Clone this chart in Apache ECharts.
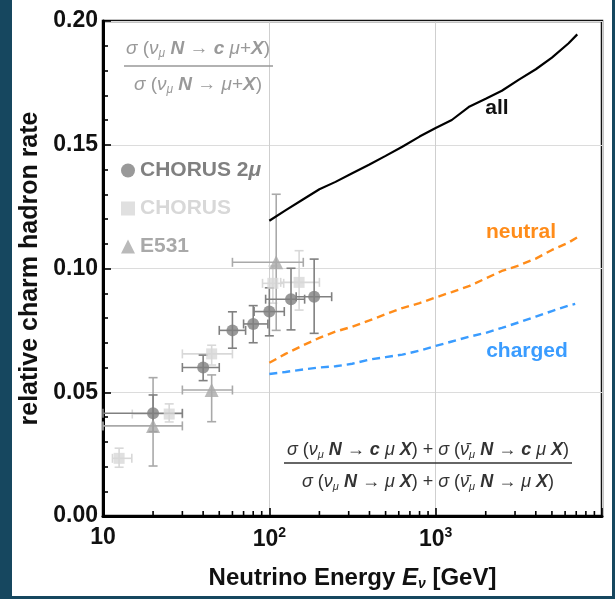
<!DOCTYPE html>
<html><head><meta charset="utf-8">
<script src="https://cdn.jsdelivr.net/npm/echarts@6/dist/echarts.min.js"></script>
<style>
html,body{margin:0;padding:0;background:#16475f;overflow:hidden;}
#wrap{position:absolute;left:12px;top:0;width:600px;height:596px;background:#fff;}
#chart{position:absolute;left:0;top:0;width:615px;height:599px;}
</style></head><body>
<div id="wrap"></div>
<div id="chart"></div>
<script>
// ---- data ----
const chorus2muE   = [20, 40, 60, 80, 100, 135, 186];
const chorus2muV   = [0.0415, 0.0600, 0.0750, 0.0776, 0.0826, 0.0876, 0.0886];
const chorus2muElo = [10, 30, 50, 70, 81, 95, 145];
const chorus2muEhi = [30, 50, 72, 98, 123, 163, 237];
const chorus2muVlo = [0.0341, 0.0547, 0.0678, 0.0700, 0.0728, 0.0752, 0.0738];
const chorus2muVhi = [0.0489, 0.0650, 0.0825, 0.0850, 0.0922, 0.1001, 0.1038];

const chorusE   = [12.5, 25, 45, 105, 151];
const chorusV   = [0.0233, 0.0412, 0.0655, 0.0940, 0.0944];
const chorusElo = [11.4, 15, 30, 91, 117];
const chorusEhi = [14.9, 30, 60, 122, 200];
const chorusVlo = [0.0197, 0.0380, 0.0610, 0.0860, 0.0832];
const chorusVhi = [0.0274, 0.0453, 0.0690, 0.1010, 0.1072];

const e531E   = [20, 45, 110];
const e531V   = [0.0364, 0.0509, 0.1025];
const e531Elo = [10, 30, 60];
const e531Ehi = [30, 60, 160];
const e531Vlo = [0.0202, 0.0381, 0.0750];
const e531Vhi = [0.0559, 0.0570, 0.1300];

const lineE   = [100,125,160,200,250,315,400,500,630,800,1000,1250,1600,2000,2500,3150,4000,5000,6300,7100];
const allV    = [0.1193,0.1235,0.1280,0.1320,0.1350,0.1385,0.1420,0.1455,0.1492,0.1533,0.1568,0.1600,0.1655,0.1686,0.1718,0.1762,0.1805,0.1852,0.1910,0.1946];
const neutralV= [0.0619,0.0655,0.0690,0.0720,0.0745,0.0765,0.0790,0.0815,0.0840,0.0860,0.0883,0.0905,0.0930,0.0960,0.0990,0.1012,0.1040,0.1075,0.1105,0.1126];
const chargedE= [100,125,160,200,250,315,400,500,630,800,1000,1250,1600,2000,2500,3150,4000,5000,6300,6900];
const chargedV= [0.0574,0.0582,0.0592,0.0600,0.0605,0.0615,0.0632,0.0642,0.0652,0.0668,0.0687,0.0705,0.0725,0.0740,0.0760,0.0782,0.0806,0.0828,0.0850,0.0857];

const minorTicksX = [20,30,40,50,60,70,80,90,200,300,400,500,600,700,800,900,2000,3000,4000,5000,6000,7000,8000,9000];

// ---- helpers ----
const FF = '"Liberation Sans", Arial, Helvetica, sans-serif';
function zip(a, b){ return a.map((v,i)=>[v, b[i]]); }
function ebData(E,V,El,Eh,Vl,Vh){ return E.map((e,i)=>[e,V[i],El[i],Eh[i],Vl[i],Vh[i]]); }
function errorBars(name, color, data){
  return {
    type:'custom', name: name, silent:true, z:3,
    data: data, encode:{x:[0,2,3], y:[1,4,5]},
    renderItem: function(params, api){
      const x=api.value(0), y=api.value(1);
      const a=api.coord([api.value(2), y]), b=api.coord([api.value(3), y]);
      const c=api.coord([x, api.value(4)]), d=api.coord([x, api.value(5)]);
      const st={stroke:color, lineWidth:1.6};
      const cap=4.5;
      return {type:'group', children:[
        {type:'line', shape:{x1:a[0],y1:a[1],x2:b[0],y2:b[1]}, style:st},
        {type:'line', shape:{x1:a[0],y1:a[1]-cap,x2:a[0],y2:a[1]+cap}, style:st},
        {type:'line', shape:{x1:b[0],y1:b[1]-cap,x2:b[0],y2:b[1]+cap}, style:st},
        {type:'line', shape:{x1:c[0],y1:c[1],x2:d[0],y2:d[1]}, style:st},
        {type:'line', shape:{x1:c[0]-cap,y1:c[1],x2:c[0]+cap,y2:c[1]}, style:st},
        {type:'line', shape:{x1:d[0]-cap,y1:d[1],x2:d[0]+cap,y2:d[1]}, style:st}
      ]};
    }
  };
}
function richSet(size, color){
  return {
    n:{fontFamily:FF, fontSize:size, color:color},
    i:{fontFamily:FF, fontSize:size, color:color, fontStyle:'italic'},
    b:{fontFamily:FF, fontSize:size, color:color, fontStyle:'italic', fontWeight:'bold'},
    s:{fontFamily:FF, fontSize:Math.round(size*0.62), color:color, fontStyle:'italic', padding:[10,0,0,0]}
  };
}
function formula(text, x, y, size, color){
  return {type:'text', silent:true, z:20, style:{text:text, x:x, y:y, rich:richSet(size,color),
    fill:color, font:size+'px '+FF, align:'center', verticalAlign:'middle'}};
}
const nuBar = 'ν\u0304';

const C2 = '#808080', C1 = '#d8d8d8', C3 = '#a9a9a9';
const ORANGE = '#ff8c1a', BLUE = '#3a9cff';

const chart = echarts.init(document.getElementById('chart'), null, {renderer:'canvas'});
const option = {
  animation:false,
  grid:{left:103, top:21, width:499, height:495, show:true, borderColor:'#111', borderWidth:2.5, backgroundColor:'transparent'},
  xAxis:{
    type:'log', min:10, max:10000, logBase:10,
    name:'Neutrino Energy {it|E}{sb|ν} [GeV]', nameLocation:'middle', nameGap:49,
    nameTextStyle:{fontFamily:FF, fontSize:24, fontWeight:'bold', color:'#111',
      rich:{it:{fontFamily:FF, fontSize:24, fontWeight:'bold', fontStyle:'italic', color:'#111'},
            sb:{fontFamily:FF, fontSize:14, fontStyle:'italic', color:'#111', padding:[12,0,0,0]}}},
    axisLine:{show:true, lineStyle:{color:'#000', width:3}},
    axisTick:{show:true, inside:true, length:8, lineStyle:{color:'#000', width:1.6}},
    axisLabel:{margin:10, color:'#111', fontFamily:FF, fontSize:23, fontWeight:'bold',
      formatter:function(v){ const p=Math.round(Math.log10(v)); if(p===1) return '{b|10}'; if(p>3) return ''; return '{b|10}{p|'+p+'}'; },
      rich:{b:{fontFamily:FF, fontSize:23, fontWeight:'bold', color:'#111'},
            p:{fontFamily:FF, fontSize:14, fontWeight:'bold', color:'#111', padding:[0,0,14,0]}}},
    splitLine:{show:true, lineStyle:{color:'#cfcfcf', width:1}},
    minorTick:{show:false}
  },
  yAxis:{
    type:'value', min:0, max:0.2, interval:0.05,
    name:'relative charm hadron rate', nameLocation:'middle', nameGap:60,
    nameTextStyle:{fontFamily:FF, fontSize:25, fontWeight:'bold', color:'#111'},
    axisLine:{show:true, lineStyle:{color:'#000', width:3}},
    axisTick:{show:true, inside:true, length:8, lineStyle:{color:'#000', width:1.6}},
    minorTick:{show:true, splitNumber:5, length:5, lineStyle:{color:'#000', width:1.6}},
    axisLabel:{margin:5, color:'#111', fontFamily:FF, fontSize:23, fontWeight:'bold',
      formatter:function(v){ return v.toFixed(2); }},
    splitLine:{show:true, lineStyle:{color:'#dcdcdc', width:1}}
  },
  legend:{
    orient:'vertical', left:116, top:155, itemGap:17, itemWidth:14, itemHeight:14,
    textStyle:{fontFamily:FF, fontSize:21, fontWeight:'bold'},
    formatter:function(n){ return n==='CHORUS 2μ' ? 'CHORUS 2{it|μ}' : n; },
    data:[
      {name:'CHORUS 2μ', icon:'circle', textStyle:{color:C2, rich:{it:{fontFamily:FF,fontSize:21,fontWeight:'bold',fontStyle:'italic',color:C2}}}},
      {name:'CHORUS', icon:'rect', itemStyle:{color:C1}, textStyle:{color:C1}},
      {name:'E531', icon:'triangle', textStyle:{color:C3}}
    ]
  },
  series:[
    errorBars('eb_chorus', C1, ebData(chorusE,chorusV,chorusElo,chorusEhi,chorusVlo,chorusVhi)),
    errorBars('eb_e531', C3, ebData(e531E,e531V,e531Elo,e531Ehi,e531Vlo,e531Vhi)),
    errorBars('eb_chorus2mu', C2, ebData(chorus2muE,chorus2muV,chorus2muElo,chorus2muEhi,chorus2muVlo,chorus2muVhi)),
    {type:'scatter', name:'CHORUS', symbol:'rect', symbolSize:11, z:4, itemStyle:{color:C1}, data:zip(chorusE,chorusV)},
    {type:'scatter', name:'E531', symbol:'triangle', symbolSize:14, z:4, itemStyle:{color:C3}, data:zip(e531E,e531V)},
    {type:'scatter', name:'CHORUS 2μ', symbol:'circle', symbolSize:12, z:5, itemStyle:{color:C2}, data:zip(chorus2muE,chorus2muV)},
    {type:'line', name:'all', showSymbol:false, z:6, lineStyle:{color:'#000', width:2.2}, data:zip(lineE, allV)},
    {type:'line', name:'neutral', showSymbol:false, z:6, lineStyle:{color:ORANGE, width:2.4, type:[8,5]}, data:zip(lineE, neutralV)},
    {type:'line', name:'charged', showSymbol:false, z:6, lineStyle:{color:BLUE, width:2.4, type:[8,5]}, data:zip(chargedE, chargedV)},
    {type:'custom', name:'minorX', silent:true, z:10, data:minorTicksX.map(v=>[v,0]),
      renderItem:function(params, api){
        const p=api.coord([api.value(0), 0]);
        return {type:'line', shape:{x1:p[0], y1:p[1], x2:p[0], y2:p[1]-5}, style:{stroke:'#000', lineWidth:1.6}};
      }}
  ],
  graphic:[
    formula('{i|σ}{n| (}{i|ν}{s|μ}{b| N}{n| → }{b|c}{i| μ}{n|+}{b|X}{n|)}', 198, 49, 19, '#999'),
    {type:'line', silent:true, z:20, shape:{x1:124, y1:66, x2:273, y2:66}, style:{stroke:'#999', lineWidth:1.6}},
    formula('{i|σ}{n| (}{i|ν}{s|μ}{b| N}{n| → }{i|μ}{n|+}{b|X}{n|)}', 198, 85, 19, '#999'),

    formula('{i|σ}{n| (}{i|ν}{s|μ}{b| N}{n| → }{b|c}{i| μ}{b| X}{n|) + }{i|σ}{n| (}{i|'+nuBar+'}{s|μ}{b| N}{n| → }{b|c}{i| μ}{b| X}{n|)}', 428, 450, 18, '#333'),
    {type:'line', silent:true, z:20, shape:{x1:284, y1:463, x2:572, y2:463}, style:{stroke:'#333', lineWidth:1.6}},
    formula('{i|σ}{n| (}{i|ν}{s|μ}{b| N}{n| → }{i|μ}{b| X}{n|) + }{i|σ}{n| (}{i|'+nuBar+'}{s|μ}{b| N}{n| → }{i|μ}{b| X}{n|)}', 428, 482, 18, '#333'),

    {type:'text', silent:true, z:20, style:{text:'all', x:497, y:108, fill:'#111', font:'bold 21px '+FF, align:'center', verticalAlign:'middle'}},
    {type:'text', silent:true, z:20, style:{text:'neutral', x:521, y:232, fill:ORANGE, font:'bold 21px '+FF, align:'center', verticalAlign:'middle'}},
    {type:'text', silent:true, z:20, style:{text:'charged', x:527, y:351, fill:BLUE, font:'bold 21px '+FF, align:'center', verticalAlign:'middle'}}
  ]
};
chart.setOption(option);
</script>
</body></html>
